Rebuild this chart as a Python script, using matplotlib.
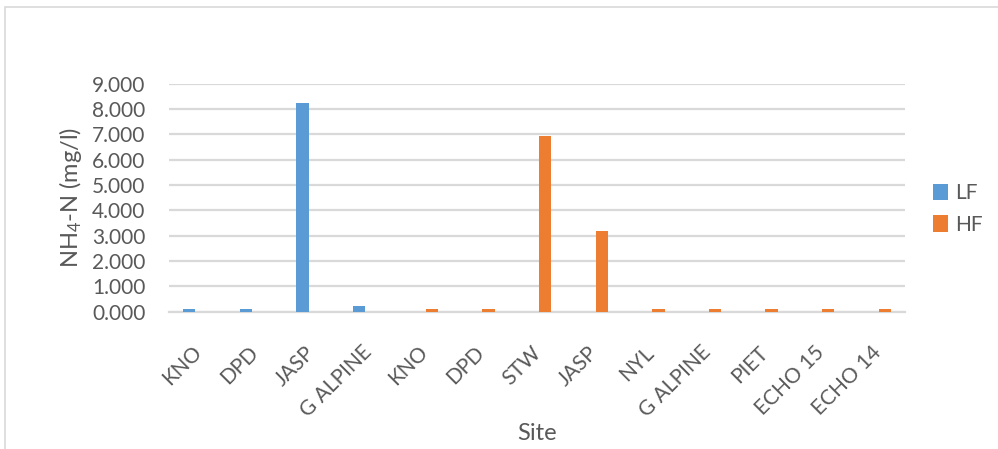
import matplotlib
matplotlib.use("Agg")
import matplotlib.pyplot as plt
import matplotlib.transforms as mtransforms
import numpy as np
from matplotlib.patches import Rectangle

sites = ["KNO", "DPD", "JASP", "G ALPINE", "KNO", "DPD", "STW", "JASP",
         "NYL", "G ALPINE", "PIET", "ECHO 15", "ECHO 14"]
lf_values = [0.10, 0.10, 8.25, 0.23, 0, 0, 0, 0, 0, 0, 0, 0, 0]
hf_values = [0, 0, 0, 0, 0.10, 0.10, 6.95, 3.20, 0.10, 0.10, 0.10, 0.10, 0.10]
y_ticks = [0, 1, 2, 3, 4, 5, 6, 7, 8, 9]

plt.rcParams["font.family"] = ["Lato", "DejaVu Sans"]
plt.rcParams["mathtext.fontset"] = "custom"
plt.rcParams["mathtext.rm"] = "Lato"
plt.rcParams["mathtext.it"] = "Lato:italic"

text_color = "#595959"
grid_color = "#d9d9d9"
blue = "#5b9bd5"
orange = "#ed7d31"

fig = plt.figure(figsize=(9.98, 4.49), dpi=100)
ax = fig.add_axes([0.1693, 0.3058, 0.9068 - 0.1693, 0.8136 - 0.3058])

x = np.arange(len(sites))
width = 0.22
offset = 0.144
ax.bar(x - offset, lf_values, width, color=blue, label="LF", zorder=3)
ax.bar(x + offset, hf_values, width, color=orange, label="HF", zorder=3)

ax.set_xlim(-0.5, len(sites) - 0.5)
ax.set_ylim(0, 9)
ax.set_yticks(y_ticks)
ax.set_yticklabels([f"{v:.3f}" for v in y_ticks])
ax.yaxis.grid(True, color=grid_color, linewidth=1.6, zorder=0)
ax.set_axisbelow(True)
for side in ["top", "right", "left"]:
    ax.spines[side].set_visible(False)
ax.spines["bottom"].set_color(grid_color)
ax.spines["bottom"].set_linewidth(1.6)

ax.set_xticks(x)
ax.set_xticklabels(sites, rotation=45, ha="right", rotation_mode="anchor")
ax.tick_params(axis="both", length=0, colors=text_color, labelsize=15)
ax.tick_params(axis="x", pad=22)
ax.tick_params(axis="y", pad=17)

shift = mtransforms.ScaledTranslation(-6 / 100, 0, fig.dpi_scale_trans)
for lbl in ax.get_xticklabels():
    lbl.set_transform(lbl.get_transform() + shift)

ax.set_ylabel("NH$_4$-N (mg/l)", fontsize=17, color=text_color, labelpad=6)
fig.text(537 / 998, 1 - 434 / 449, "Site", fontsize=17, color=text_color,
         ha="center", va="center")

ax.legend(loc="center left", bbox_to_anchor=(1.012, 0.45), frameon=False,
          fontsize=15, labelcolor=text_color, handlelength=0.75,
          handleheight=0.85, handletextpad=0.35, labelspacing=0.55)

# outer chart border (runs off the right and bottom edges)
fig.patches.append(Rectangle((5 / 998, -0.1), 1.2, (449 - 7) / 449 + 0.1,
                             transform=fig.transFigure, fill=False,
                             edgecolor=grid_color, linewidth=1.2))

fig.savefig("out.png", dpi=100)
